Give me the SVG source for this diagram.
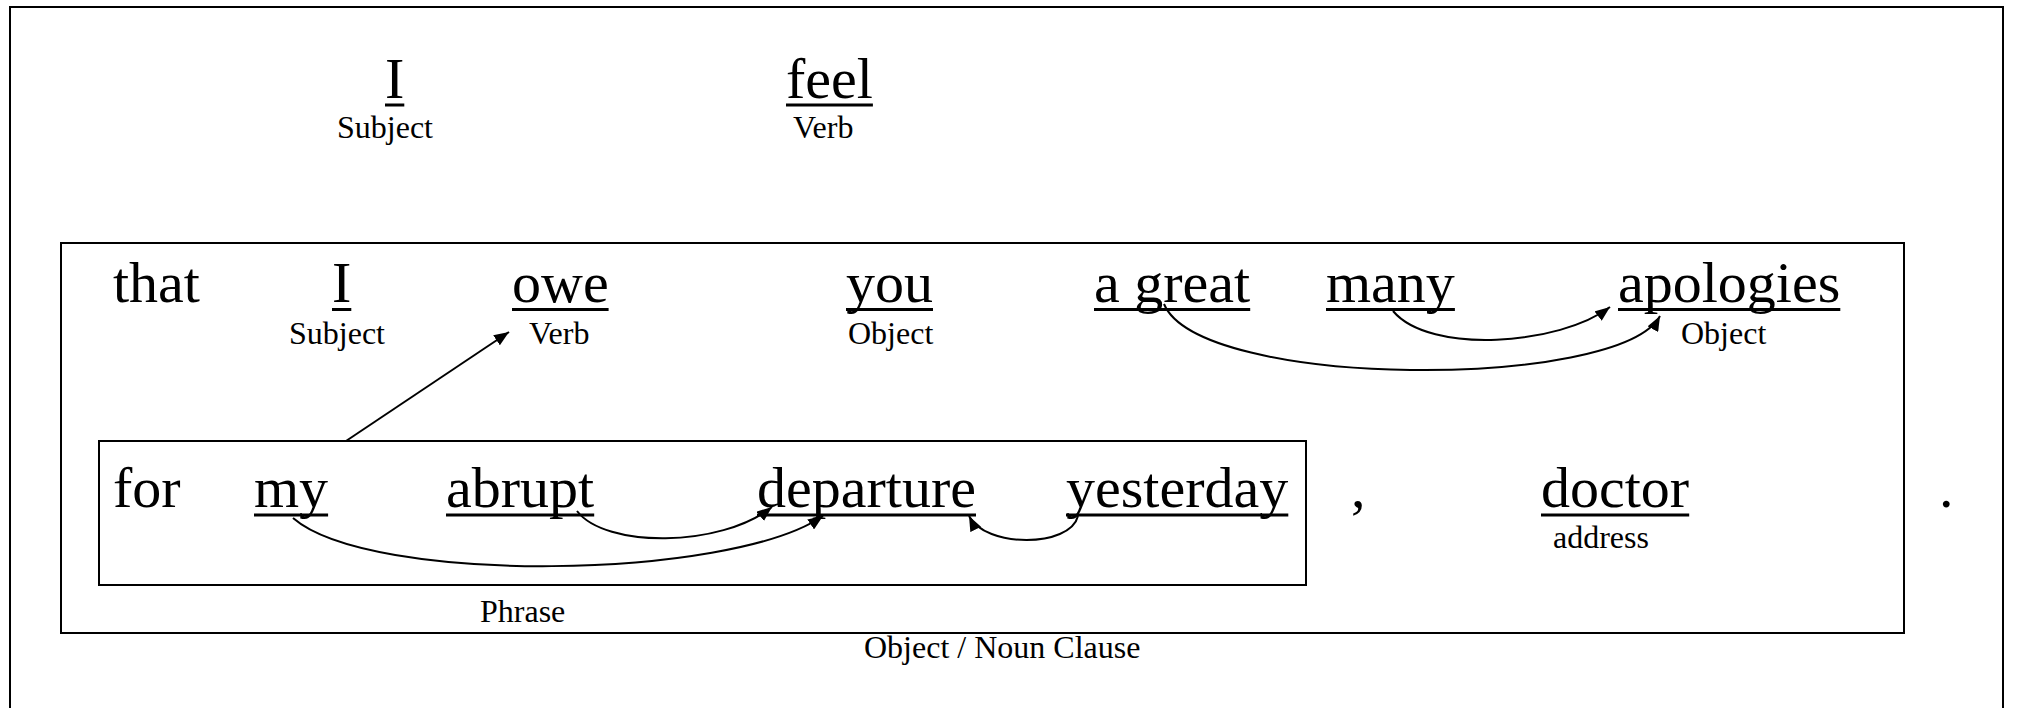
<svg xmlns="http://www.w3.org/2000/svg" width="2024" height="708" viewBox="0 0 2024 708">
<style>
text{font-family:"Liberation Serif","Times New Roman",serif;fill:#000}
.w{font-size:58px}
.l{font-size:32px}
.ul{stroke:#000;stroke-width:3;fill:none}
.box{fill:none;stroke:#000;stroke-width:2}
.c{fill:none;stroke:#000;stroke-width:2}
</style>
<defs>
<marker id="ah" markerUnits="userSpaceOnUse" markerWidth="16" markerHeight="12" refX="15" refY="6" orient="auto">
<path d="M0,0 L15,6 L0,12 z" fill="#000"/>
</marker>
</defs>
<rect width="2024" height="708" fill="#fff"/>
<rect id="frame" class="box" x="10" y="7" width="1993" height="706"/>
<g id="main-subject"><text class="w" x="385" y="98">I</text><line class="ul" x1="385" y1="105" x2="404.3" y2="105"/><text class="l" x="337" y="138">Subject</text></g>
<g id="main-verb"><text class="w" x="786" y="98">feel</text><line class="ul" x1="786" y1="105" x2="872.9" y2="105"/><text class="l" x="793" y="138">Verb</text></g>
<g id="noun-clause">
<rect class="box" x="61" y="243" width="1843" height="390"/>
<text class="l" x="864" y="658">Object / Noun Clause</text>
<g id="that"><text class="w" x="113" y="302">that</text></g>
<g id="clause-subject"><text class="w" x="332" y="302">I</text><line class="ul" x1="332" y1="309.5" x2="351.3" y2="309.5"/><text class="l" x="289" y="344">Subject</text></g>
<g id="owe"><text class="w" x="512" y="302">owe</text><line class="ul" x1="512" y1="309.5" x2="608.6" y2="309.5"/><text class="l" x="529" y="344">Verb</text></g>
<g id="you"><text class="w" x="846" y="302">you</text><line class="ul" x1="846" y1="309.5" x2="933" y2="309.5"/><text class="l" x="848" y="344">Object</text></g>
<g id="a-great"><text class="w" x="1094" y="302">a great</text><line class="ul" x1="1094" y1="309.5" x2="1250.2" y2="309.5"/></g>
<g id="many"><text class="w" x="1326" y="302">many</text><line class="ul" x1="1326" y1="309.5" x2="1454.9" y2="309.5"/></g>
<g id="apologies"><text class="w" x="1618" y="302">apologies</text><line class="ul" x1="1618" y1="309.5" x2="1840.3" y2="309.5"/><text class="l" x="1681" y="344">Object</text></g>
<g id="phrase">
<rect class="box" x="99" y="441" width="1207" height="144"/>
<text class="l" x="480" y="622">Phrase</text>
<g id="for"><text class="w" x="113" y="507">for</text></g>
<g id="my"><text class="w" x="254" y="507">my</text><line class="ul" x1="254" y1="515" x2="328.1" y2="515"/></g>
<g id="abrupt"><text class="w" x="446" y="507">abrupt</text><line class="ul" x1="446" y1="515" x2="594.2" y2="515"/></g>
<g id="departure"><text class="w" x="757" y="507">departure</text><line class="ul" x1="757" y1="515" x2="976" y2="515"/></g>
<g id="yesterday"><text class="w" x="1066" y="507">yesterday</text><line class="ul" x1="1066" y1="515" x2="1288.3" y2="515"/></g>
</g>
<g id="comma"><text class="w" x="1351" y="507">,</text></g>
<g id="doctor"><text class="w" x="1541" y="507">doctor</text><line class="ul" x1="1541" y1="515" x2="1689.2" y2="515"/><text class="l" x="1553" y="548">address</text></g>
</g>
<g id="period"><text class="w" x="1939" y="507">.</text></g>
<g id="connectors">
<path class="c" d="M346,441 L509,332" marker-end="url(#ah)"/>
<path class="c" d="M577,511 C605,548 720,548 772,507" marker-end="url(#ah)"/>
<path class="c" d="M293,518 C370,585 730,580 823,516" marker-end="url(#ah)"/>
<path class="c" d="M1078,516 C1070,548 985,548 969,516" marker-end="url(#ah)"/>
<path class="c" d="M1393,311 C1430,355 1560,345 1610,307" marker-end="url(#ah)"/>
<path class="c" d="M1164,304 C1200,390 1620,390 1660,316" marker-end="url(#ah)"/>
</g>
</svg>
